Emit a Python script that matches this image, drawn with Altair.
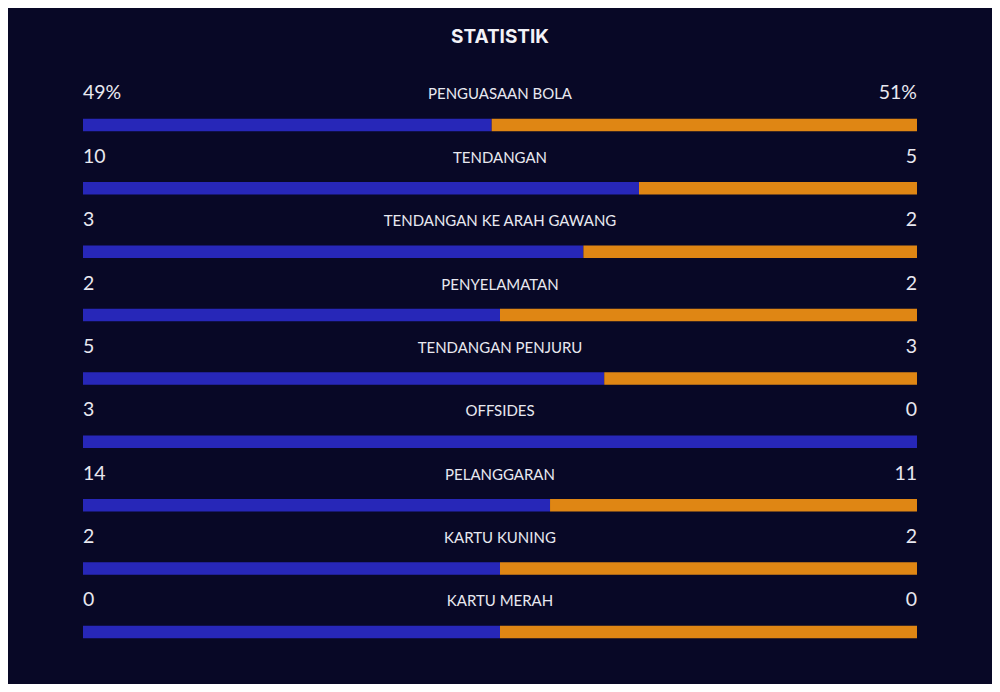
import altair as alt
import pandas as pd

labels = ["PENGUASAAN BOLA", "TENDANGAN", "TENDANGAN KE ARAH GAWANG", "PENYELAMATAN",
          "TENDANGAN PENJURU", "OFFSIDES", "PELANGGARAN", "KARTU KUNING", "KARTU MERAH"]
home = [49, 10, 3, 2, 5, 3, 14, 2, 0]
away = [51, 5, 2, 2, 3, 0, 11, 2, 0]
home_text = ["49%", "10", "3", "2", "5", "3", "14", "2", "0"]
away_text = ["51%", "5", "2", "2", "3", "0", "11", "2", "0"]

BG = "#080826"
BLUE = "#2727b8"
ORANGE = "#df8614"
TXT = "#e8e8f0"

rows = []
for i, (lab, h, a, ht, at) in enumerate(zip(labels, home, away, home_text, away_text)):
    frac = 0.5 if (h + a) == 0 else h / (h + a)
    rows.append(dict(row=i, label=lab, home=h, away=a, home_text=ht, away_text=at,
                     frac=frac, zero=0.0, one=1.0, mid=0.5))
df = pd.DataFrame(rows)

xs = alt.Scale(domain=[0, 1], range=[0, 834], nice=False, zero=False)
ys = alt.Scale(domain=[-1, 8.5], nice=False, zero=False, reverse=True)

base = alt.Chart(df)

blue = base.mark_rule(color=BLUE, strokeWidth=12.5, strokeCap="butt").encode(
    x=alt.X("zero:Q", scale=xs, axis=None),
    x2="frac:Q",
    y=alt.Y("row:Q", scale=ys, axis=None),
)
orange = base.transform_filter("datum.frac < 1").mark_rule(color=ORANGE, strokeWidth=12.5, strokeCap="butt").encode(
    x=alt.X("frac:Q", scale=xs, axis=None),
    x2="one:Q",
    y=alt.Y("row:Q", scale=ys, axis=None),
)
left = base.mark_text(align="left", baseline="alphabetic", dy=-25.5, font="Lato",
                      fontSize=19.5, color=TXT).encode(
    x=alt.X("zero:Q", scale=xs, axis=None),
    y=alt.Y("row:Q", scale=ys, axis=None),
    text="home_text:N",
)
right = base.mark_text(align="right", baseline="alphabetic", dy=-25.5, font="Lato",
                       fontSize=19.5, color=TXT).encode(
    x=alt.X("one:Q", scale=xs, axis=None),
    y=alt.Y("row:Q", scale=ys, axis=None),
    text="away_text:N",
)
mid = base.mark_text(align="center", baseline="alphabetic", dy=-25.5, font="Lato",
                     fontSize=15, color=TXT).encode(
    x=alt.X("mid:Q", scale=xs, axis=None),
    y=alt.Y("row:Q", scale=ys, axis=None),
    text="label:N",
)

chart = alt.layer(blue, orange, left, right, mid).properties(
    width=834,
    height=602,
    background=BG,
    padding={"left": 75, "top": 53.6, "right": 75, "bottom": 20},
    autosize=alt.AutoSizeParams(type="none"),
    title=alt.TitleParams("STATISTIK", font="Inter", fontSize=19, fontWeight="bold",
                          color="#f2f2f7", anchor="middle", baseline="alphabetic", offset=0),
).configure_view(stroke=None)

chart.save("out.html", embed_options={"renderer": "svg", "actions": False})
